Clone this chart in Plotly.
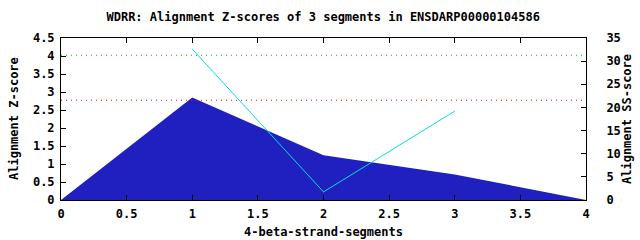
import plotly.graph_objects as go

segments = [0, 1, 2, 3, 4]
z_scores = [0, 2.85, 1.24, 0.71, 0]
ss_x = [1, 2, 3]
ss_scores = [32.6, 1.75, 19.2]
green_threshold = 4.02
red_threshold = 2.77

FONT = dict(family="DejaVu Sans Mono", size=12, color="black", weight="bold")

fig = go.Figure()
fig.add_trace(go.Scatter(x=segments, y=z_scores, mode="lines", fill="tozeroy",
                         fillcolor="#2020c0", line=dict(width=0, color="#2020c0"),
                         showlegend=False, hoverinfo="skip"))
fig.add_trace(go.Scatter(x=[0, 4], y=[green_threshold, green_threshold], mode="lines",
                         line=dict(color="#00c000", width=1, dash="1px,4px"), showlegend=False))
fig.add_trace(go.Scatter(x=[0, 4], y=[red_threshold, red_threshold], mode="lines",
                         line=dict(color="#ff0000", width=1, dash="1px,4px"), showlegend=False))
fig.add_trace(go.Scatter(x=ss_x, y=ss_scores, mode="lines", yaxis="y2",
                         line=dict(color="#00e0e0", width=1), showlegend=False))

axis_common = dict(showline=True, linecolor="black", linewidth=1, ticks="inside",
                   ticklen=5, tickcolor="black", showgrid=False, zeroline=False,
                   tickfont=FONT, automargin=False)

PW = 640 - 61 - 54
fig.update_layout(
    width=640, height=240,
    margin=dict(l=61, r=54, t=38, b=40, autoexpand=False),
    paper_bgcolor="white", plot_bgcolor="white",
    font=FONT,
    title=dict(text="WDRR: Alignment Z-scores of 3 segments in ENSDARP00000104586",
               x=0.505, xanchor="center", y=1 - 17/240, yanchor="middle", font=FONT,
               automargin=False),
    xaxis=dict(range=[0, 4], dtick=0.5, tick0=0, mirror="ticks",
               title=dict(text="4-beta-strand-segments", font=FONT, standoff=7),
               ticklabelstandoff=3, **axis_common),
    yaxis=dict(range=[0, 4.5], dtick=0.5, tick0=0,
               ticklabelstandoff=3, **axis_common),
    yaxis2=dict(range=[0, 35], dtick=5, tick0=0, overlaying="y", side="right",
                ticklabelstandoff=17, **axis_common),
    annotations=[
        dict(text="Alignment Z-score", textangle=-90, xref="paper", yref="paper",
             x=(14 - 61) / PW, y=0.5, xanchor="center", yanchor="middle",
             showarrow=False, font=FONT),
        dict(text="Alignment SS-score", textangle=-90, xref="paper", yref="paper",
             x=(627 - 61) / PW, y=0.5, xanchor="center", yanchor="middle",
             showarrow=False, font=FONT),
    ],
)

fig.write_html("out.html")
